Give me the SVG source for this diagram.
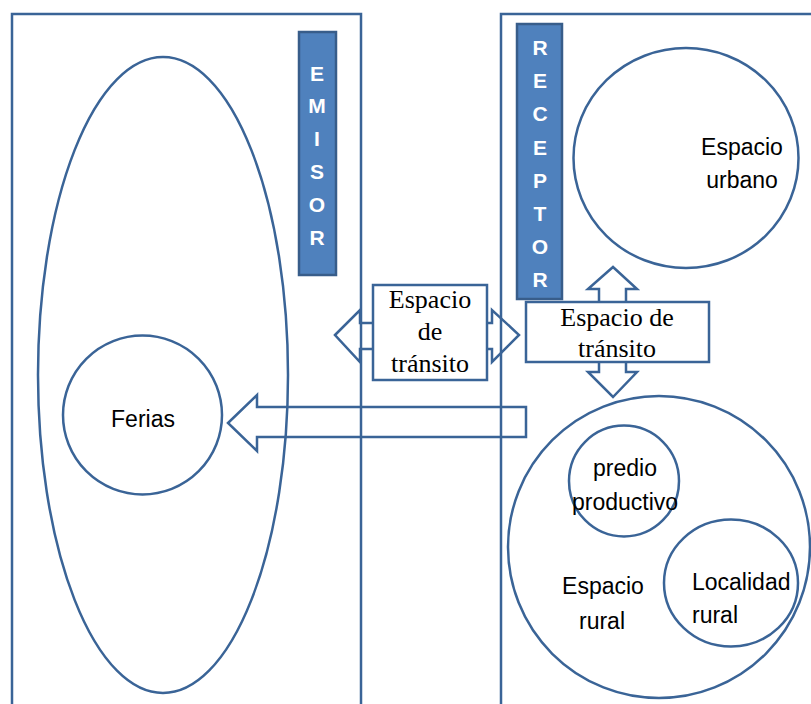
<svg xmlns="http://www.w3.org/2000/svg" width="811" height="704" viewBox="0 0 811 704">
<style>
.ln{fill:none;stroke:#3A6497;stroke-width:2.5}
.box{fill:#ffffff;stroke:#3A6497;stroke-width:2.5}
.bar{fill:#4F81BD;stroke:#385D8A;stroke-width:2.5}
.bl{font-family:"Liberation Sans",Arial,sans-serif;font-weight:bold;font-size:21px;fill:#ffffff;text-anchor:middle}
.s{font-family:"Liberation Sans",Arial,sans-serif;font-size:23px;fill:#000000}
.c{text-anchor:middle}
.t{font-family:"Liberation Serif","Times New Roman",serif;font-size:26px;fill:#000000;text-anchor:middle}
</style>
<rect width="811" height="704" fill="#ffffff"/>
<g id="emisor">
<rect class="ln" x="12" y="14" width="349" height="700"/>
<rect class="bar" x="299" y="32" width="37" height="243"/>
<text class="bl" x="317" y="81">E</text>
<text class="bl" x="317" y="113">M</text>
<text class="bl" x="317" y="146">I</text>
<text class="bl" x="317" y="179">S</text>
<text class="bl" x="317" y="212">O</text>
<text class="bl" x="317" y="245">R</text>
</g>
<g id="receptor">
<rect class="ln" x="501" y="14" width="320" height="700"/>
<rect class="bar" x="517" y="24" width="45" height="275"/>
<text class="bl" x="540" y="55">R</text>
<text class="bl" x="540" y="88">E</text>
<text class="bl" x="540" y="121">C</text>
<text class="bl" x="540" y="155">E</text>
<text class="bl" x="540" y="188">P</text>
<text class="bl" x="540" y="221">T</text>
<text class="bl" x="540" y="254">O</text>
<text class="bl" x="540" y="287">R</text>
</g>
<g id="emisor-ellipse">
<ellipse class="ln" cx="163" cy="375" rx="125" ry="318"/>
</g>
<g id="ferias">
<circle class="ln" cx="142.5" cy="415" r="79.5"/>
<text class="s c" x="143" y="427">Ferias</text>
</g>
<g id="espacio-urbano">
<ellipse class="ln" cx="686" cy="158" rx="112.5" ry="110"/>
<text class="s c" x="742" y="155">Espacio</text>
<text class="s c" x="742" y="188">urbano</text>
</g>
<g id="espacio-rural">
<circle class="ln" cx="659" cy="547" r="151"/>
<text class="s c" x="603" y="594">Espacio</text>
<text class="s c" x="602" y="629">rural</text>
</g>
<g id="predio">
<ellipse class="ln" cx="624" cy="481" rx="55" ry="55.5"/>
<text class="s c" x="625" y="476">predio</text>
<text class="s c" x="625" y="510">productivo</text>
</g>
<g id="localidad">
<ellipse class="ln" cx="731" cy="583" rx="67" ry="63.5"/>
<text class="s" x="692" y="590">Localidad</text>
<text class="s" x="692" y="623">rural</text>
</g>
<g id="connectors">
<path class="ln" d="M335,335 L360,310 L360,323 L492,323 L492,310 L519,335 L492,362 L492,349 L360,349 L360,362 Z"/>
<path class="ln" d="M613,267 L637,289 L626,289 L626,372 L637,372 L613,397 L588,372 L599,372 L599,289 L588,289 Z"/>
<path class="ln" d="M228,423 L257,395 L257,407 L526,407 L526,437 L257,437 L257,451 Z"/>
</g>
<g id="transito-1">
<rect class="box" x="373" y="285" width="114" height="95"/>
<text class="t" x="430" y="308">Espacio</text>
<text class="t" x="430" y="340">de</text>
<text class="t" x="430" y="372">tránsito</text>
</g>
<g id="transito-2">
<rect class="box" x="526" y="302" width="183" height="60"/>
<text class="t" x="617" y="326">Espacio de</text>
<text class="t" x="617" y="357">tránsito</text>
</g>
</svg>
